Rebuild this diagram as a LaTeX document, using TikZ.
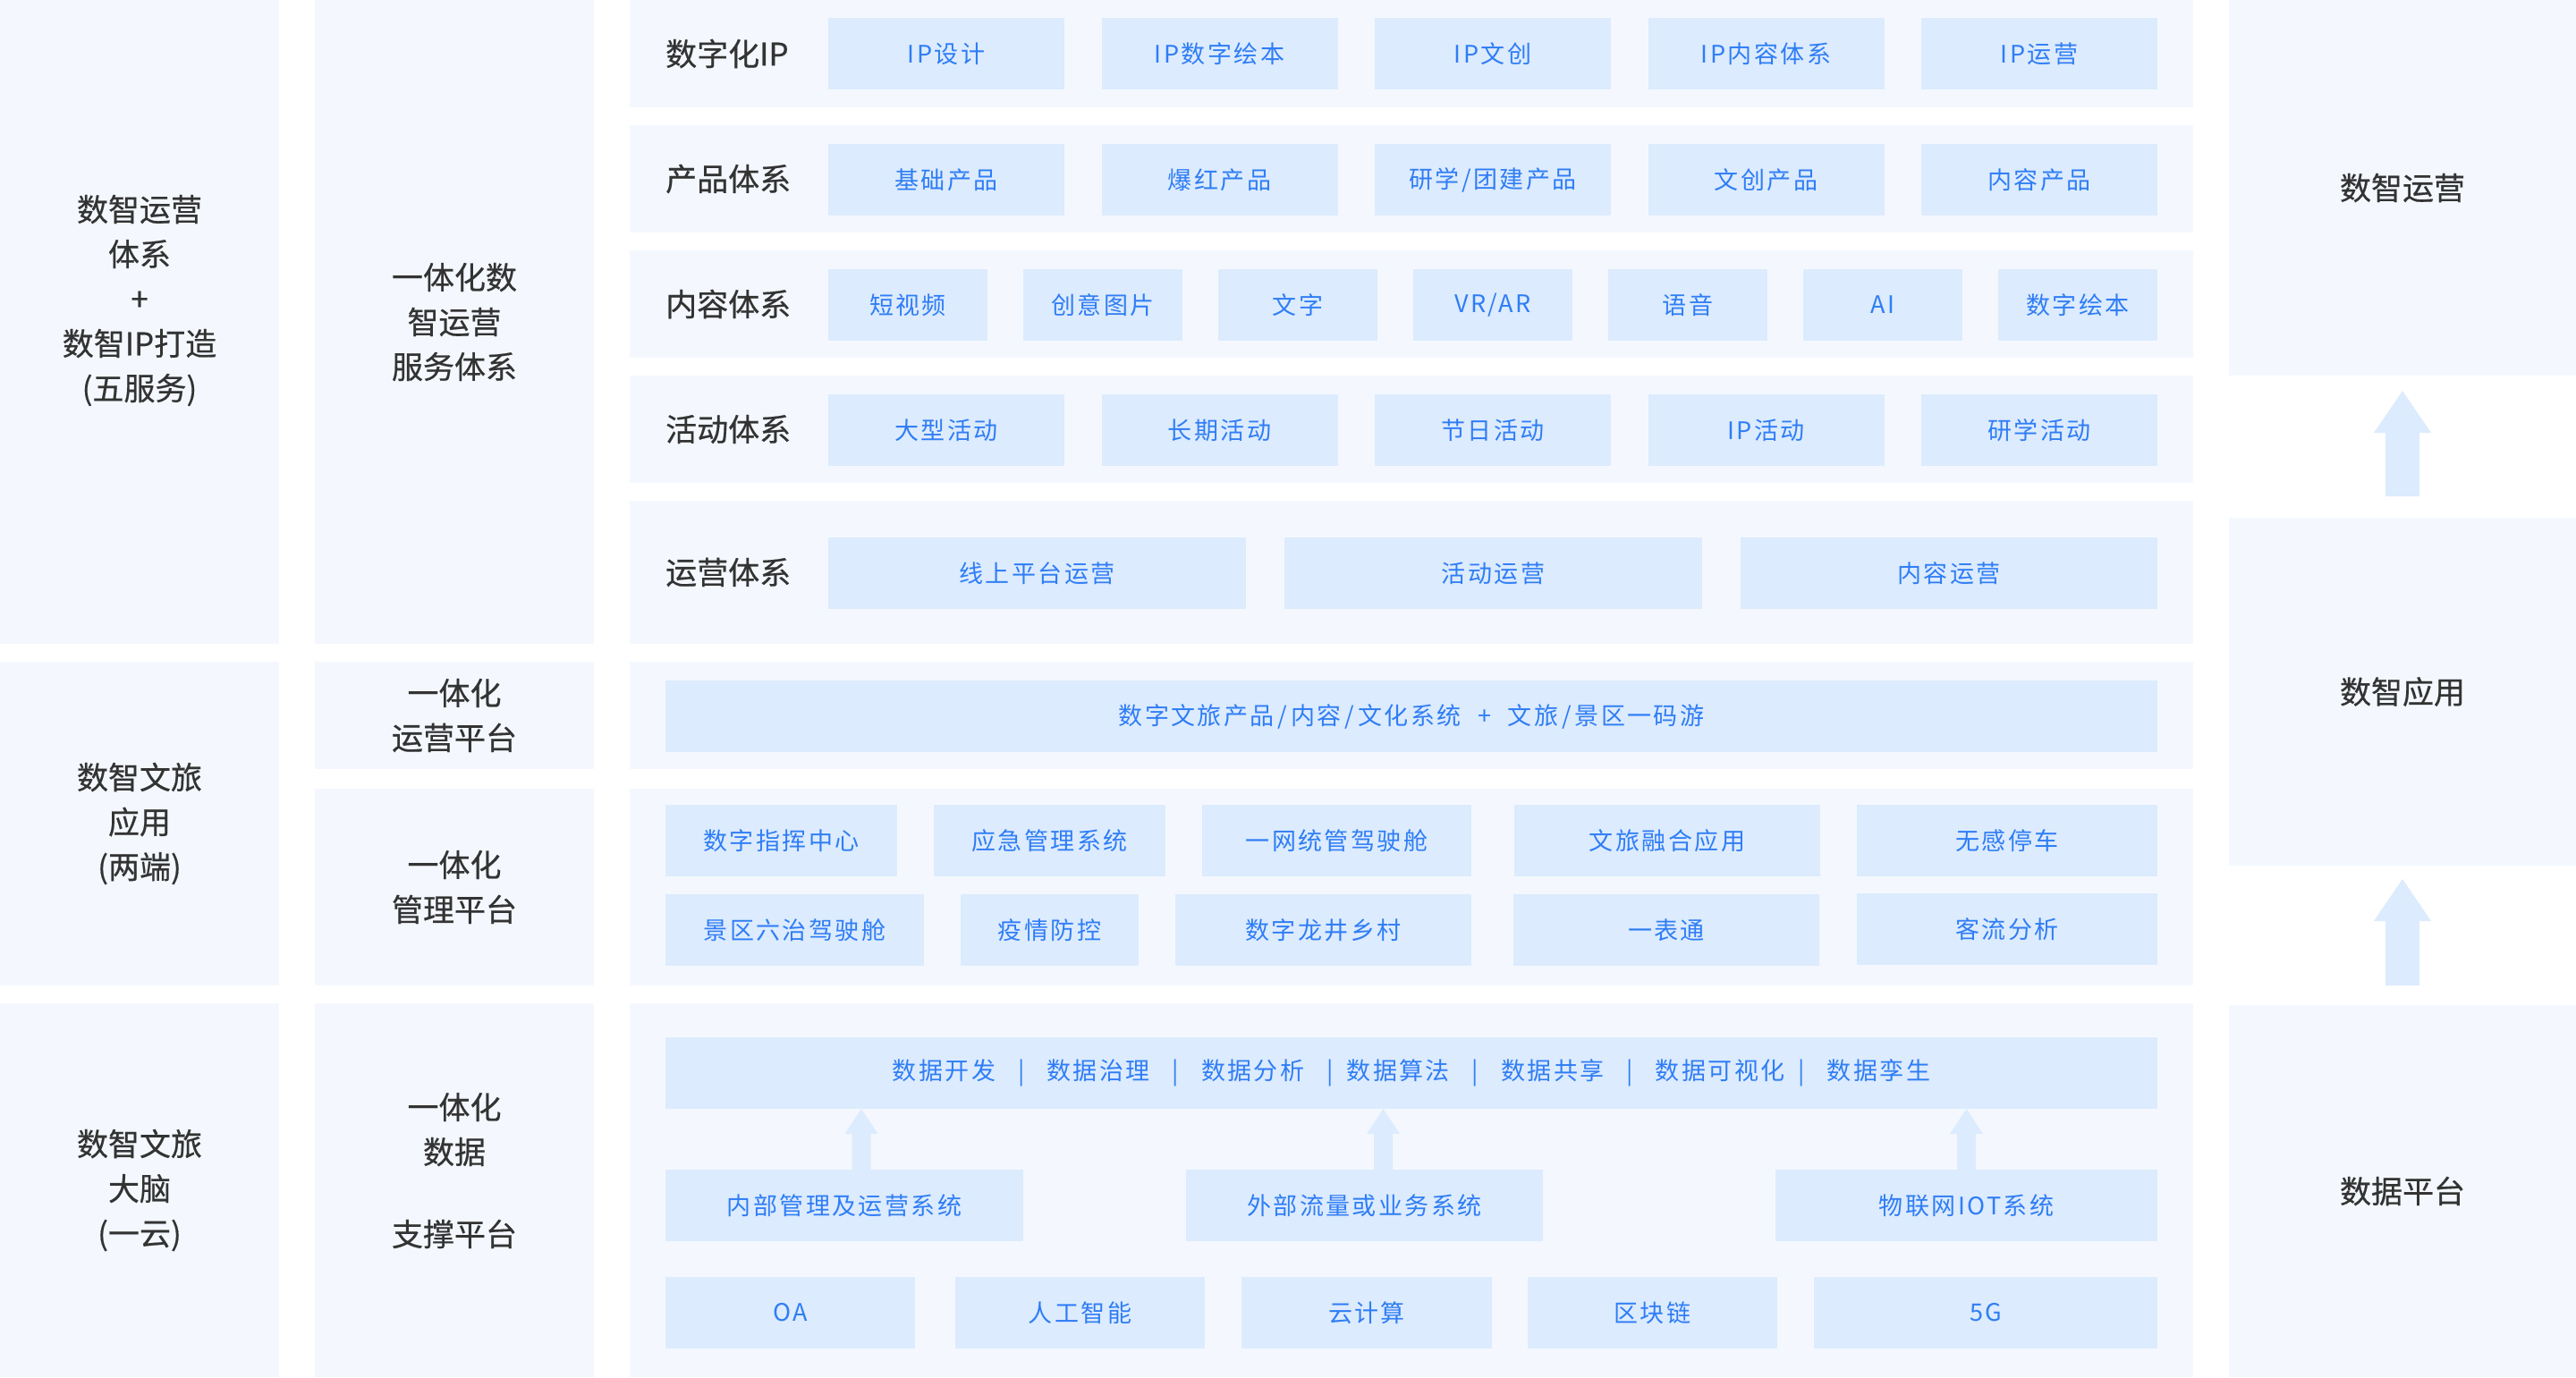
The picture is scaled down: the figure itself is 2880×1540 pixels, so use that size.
\documentclass[tikz,border=0pt]{standalone}
\usepackage{fontspec}
\setmainfont{Noto Sans CJK SC}
\newfontfamily\bfnt[LetterSpace=9]{Noto Sans CJK SC}
\newfontfamily\dfnt[FakeBold=0.5]{Noto Sans CJK SC}
\usetikzlibrary{calc}
\definecolor{secbg}{HTML}{F4F8FE}
\definecolor{boxbg}{HTML}{DCEBFD}
\definecolor{btxt}{HTML}{2F7DF6}
\definecolor{dtxt}{HTML}{333333}
\tikzset{
  sec/.style={fill=secbg, draw=none, inner sep=0pt, outer sep=0pt},
  bbox/.style={fill=boxbg, draw=none, inner sep=0pt, outer sep=0pt, text=btxt, font=\bfnt\fontsize{27}{34}\selectfont},
  lbl/.style={text=dtxt, font=\dfnt\fontsize{35}{50}\selectfont, align=center},
  rowlbl/.style={text=dtxt, font=\dfnt\fontsize{35}{42}\selectfont, anchor=west, inner sep=0pt},
  arw/.style={fill=boxbg, draw=none},
}
% style, name, x1, y1, x2, y2, text
\newcommand\rect[7]{\node[#1, minimum width={#5-#3}, minimum height={#6-#4}] (#2) at ({(#3+#5)/2},{(#4+#6)/2}) {#7};}
% tip, bottom, head half width, head length, shaft half width
\newcommand\blockup[5]{\fill[arw] let \p1=#1, \p2=#2 in (\p1) -- (\x1+#3pt,\y1-#4pt) -- (\x1+#5pt,\y1-#4pt) -- (\x1+#5pt,\y2) -- (\x1-#5pt,\y2) -- (\x1-#5pt,\y1-#4pt) -- (\x1-#3pt,\y1-#4pt) -- cycle;}
\newcommand\sepA{\hspace{25pt}|\hspace{25pt}}
\newcommand\sepB{\hspace{25pt}|\hspace{15pt}}
\newcommand\sepC{\hspace{15pt}|\hspace{25pt}}
\newcommand\slsh{\hspace{4pt}/\hspace{4pt}}
\begin{document}
\begin{tikzpicture}[x=1pt,y=-1pt]
\useasboundingbox (0,0) rectangle (2880,1540);
% ---------- left column
\rect{sec}{c1a}{0}{0}{312}{720}{}
\node[lbl] (c1at) at (156,336) {数智运营\\体系\\+\\数智IP打造\\(五服务)};
\rect{sec,lbl}{c1b}{0}{740}{312}{1102}{数智文旅\\应用\\(两端)}
\rect{sec,lbl}{c1c}{0}{1122}{312}{1540}{数智文旅\\大脑\\(一云)}
% ---------- second column
\rect{sec,lbl}{c2a}{352}{0}{664}{720}{一体化数\\智运营\\服务体系}
\rect{sec,lbl}{c2b}{352}{740}{664}{860}{一体化\\运营平台}
\rect{sec,lbl}{c2c}{352}{882}{664}{1102}{一体化\\管理平台}
\rect{sec}{c2d}{352}{1122}{664}{1540}{}
\node[lbl] (c2dt) at (508,1309) {一体化\\数据\\[42pt]支撑平台};
% ---------- right column
\rect{sec,lbl}{ops}{2492}{0}{2880}{420}{数智运营}
\rect{sec,lbl}{app}{2492}{579}{2880}{968}{数智应用}
\rect{sec,lbl}{plat}{2492}{1124}{2880}{1540}{数据平台}
\coordinate (ra1t) at ($(ops.south)+(0,17)$);
\coordinate (ra1b) at ($(app.north)+(0,-24)$);
\coordinate (ra2t) at ($(app.south)+(0,15)$);
\coordinate (ra2b) at ($(plat.north)+(0,-22)$);
\blockup{(ra1t)}{(ra1b)}{32}{47}{19}
\blockup{(ra2t)}{(ra2b)}{32}{47}{19}
% ---------- main sections
\rect{sec}{m1}{704}{0}{2452}{120}{}
\rect{sec}{m2}{704}{140}{2452}{260}{}
\rect{sec}{m3}{704}{280}{2452}{400}{}
\rect{sec}{m4}{704}{420}{2452}{540}{}
\rect{sec}{m5}{704}{560}{2452}{720}{}
\rect{sec}{m6}{704}{740}{2452}{860}{}
\rect{sec}{m7}{704}{882}{2452}{1102}{}
\rect{sec}{m8}{704}{1122}{2452}{1540}{}
% row labels
\node[rowlbl] (l1) at (744,60) {数字化IP};
\node[rowlbl] (l2) at (744,200) {产品体系};
\node[rowlbl] (l3) at (744,340) {内容体系};
\node[rowlbl] (l4) at (744,480) {活动体系};
\node[rowlbl] (l5) at (744,640) {运营体系};
% row 1
\rect{bbox}{r1a}{926}{20}{1190}{100}{IP设计}
\rect{bbox}{r1b}{1231.5}{20}{1495.5}{100}{IP数字绘本}
\rect{bbox}{r1c}{1537}{20}{1801}{100}{IP文创}
\rect{bbox}{r1d}{1842.5}{20}{2106.5}{100}{IP内容体系}
\rect{bbox}{r1e}{2148}{20}{2412}{100}{IP运营}
% row 2
\rect{bbox}{r2a}{926}{161}{1190}{241}{基础产品}
\rect{bbox}{r2b}{1231.5}{161}{1495.5}{241}{爆红产品}
\rect{bbox}{r2c}{1537}{161}{1801}{241}{研学/团建产品}
\rect{bbox}{r2d}{1842.5}{161}{2106.5}{241}{文创产品}
\rect{bbox}{r2e}{2148}{161}{2412}{241}{内容产品}
% row 3
\rect{bbox}{r3a}{926}{301}{1104}{381}{短视频}
\rect{bbox}{r3b}{1144}{301}{1322}{381}{创意图片}
\rect{bbox}{r3c}{1362}{301}{1540}{381}{文字}
\rect{bbox}{r3d}{1580}{301}{1758}{381}{VR/AR}
\rect{bbox}{r3e}{1798}{301}{1976}{381}{语音}
\rect{bbox}{r3f}{2016}{301}{2194}{381}{AI}
\rect{bbox}{r3g}{2234}{301}{2412}{381}{数字绘本}
% row 4
\rect{bbox}{r4a}{926}{441}{1190}{521}{大型活动}
\rect{bbox}{r4b}{1231.5}{441}{1495.5}{521}{长期活动}
\rect{bbox}{r4c}{1537}{441}{1801}{521}{节日活动}
\rect{bbox}{r4d}{1842.5}{441}{2106.5}{521}{IP活动}
\rect{bbox}{r4e}{2148}{441}{2412}{521}{研学活动}
% row 5
\rect{bbox}{r5a}{926}{601}{1393}{681}{线上平台运营}
\rect{bbox}{r5b}{1436}{601}{1903}{681}{活动运营}
\rect{bbox}{r5c}{1946}{601}{2412}{681}{内容运营}
% row 6
\rect{bbox}{r6}{744}{761}{2412}{841}{数字文旅产品\slsh 内容\slsh 文化系统\hspace{10pt} + \hspace{10pt}文旅\slsh 景区一码游}
% row 7
\rect{bbox}{r7a}{744}{900}{1003}{980}{数字指挥中心}
\rect{bbox}{r7b}{1044}{900}{1303}{980}{应急管理系统}
\rect{bbox}{r7c}{1344}{900}{1645}{980}{一网统管驾驶舱}
\rect{bbox}{r7d}{1693}{900}{2035}{980}{文旅融合应用}
\rect{bbox}{r7e}{2076}{900}{2412}{980}{无感停车}
\rect{bbox}{r7f}{744}{1000}{1033}{1080}{景区六治驾驶舱}
\rect{bbox}{r7g}{1074}{1000}{1273}{1080}{疫情防控}
\rect{bbox}{r7h}{1314}{1000}{1645}{1080}{数字龙井乡村}
\rect{bbox}{r7i}{1692}{1000}{2034}{1080}{一表通}
\rect{bbox}{r7j}{2076}{999}{2412}{1079}{客流分析}
% row 8
\rect{bbox}{dbar}{744}{1160}{2412}{1240}{数据开发\sepA 数据治理\sepA 数据分析\sepB 数据算法\sepA 数据共享\sepA 数据可视化\sepC 数据孪生}
\rect{bbox}{sys1}{744}{1308}{1144}{1388}{内部管理及运营系统}
\rect{bbox}{sys2}{1326}{1308}{1725}{1388}{外部流量或业务系统}
\rect{bbox}{sys3}{1985}{1308}{2412}{1388}{物联网IOT系统}
\rect{bbox}{t1}{744}{1428}{1023}{1508}{OA}
\rect{bbox}{t2}{1068}{1428}{1347}{1508}{人工智能}
\rect{bbox}{t3}{1388}{1428}{1668}{1508}{云计算}
\rect{bbox}{t4}{1708}{1428}{1987}{1508}{区块链}
\rect{bbox}{t5}{2028}{1428}{2412}{1508}{5G}
\coordinate (s1) at ($(sys1.north)+(19,0)$);
\coordinate (s2) at ($(sys2.north)+(21,0)$);
\coordinate (s3) at ($(sys3.north)+(0,0)$);
\blockup{(s1 |- dbar.south)}{(s1)}{18.5}{28}{10.5}
\blockup{(s2 |- dbar.south)}{(s2)}{18.5}{28}{10.5}
\blockup{(s3 |- dbar.south)}{(s3)}{18.5}{28}{10.5}
\end{tikzpicture}
\end{document}
